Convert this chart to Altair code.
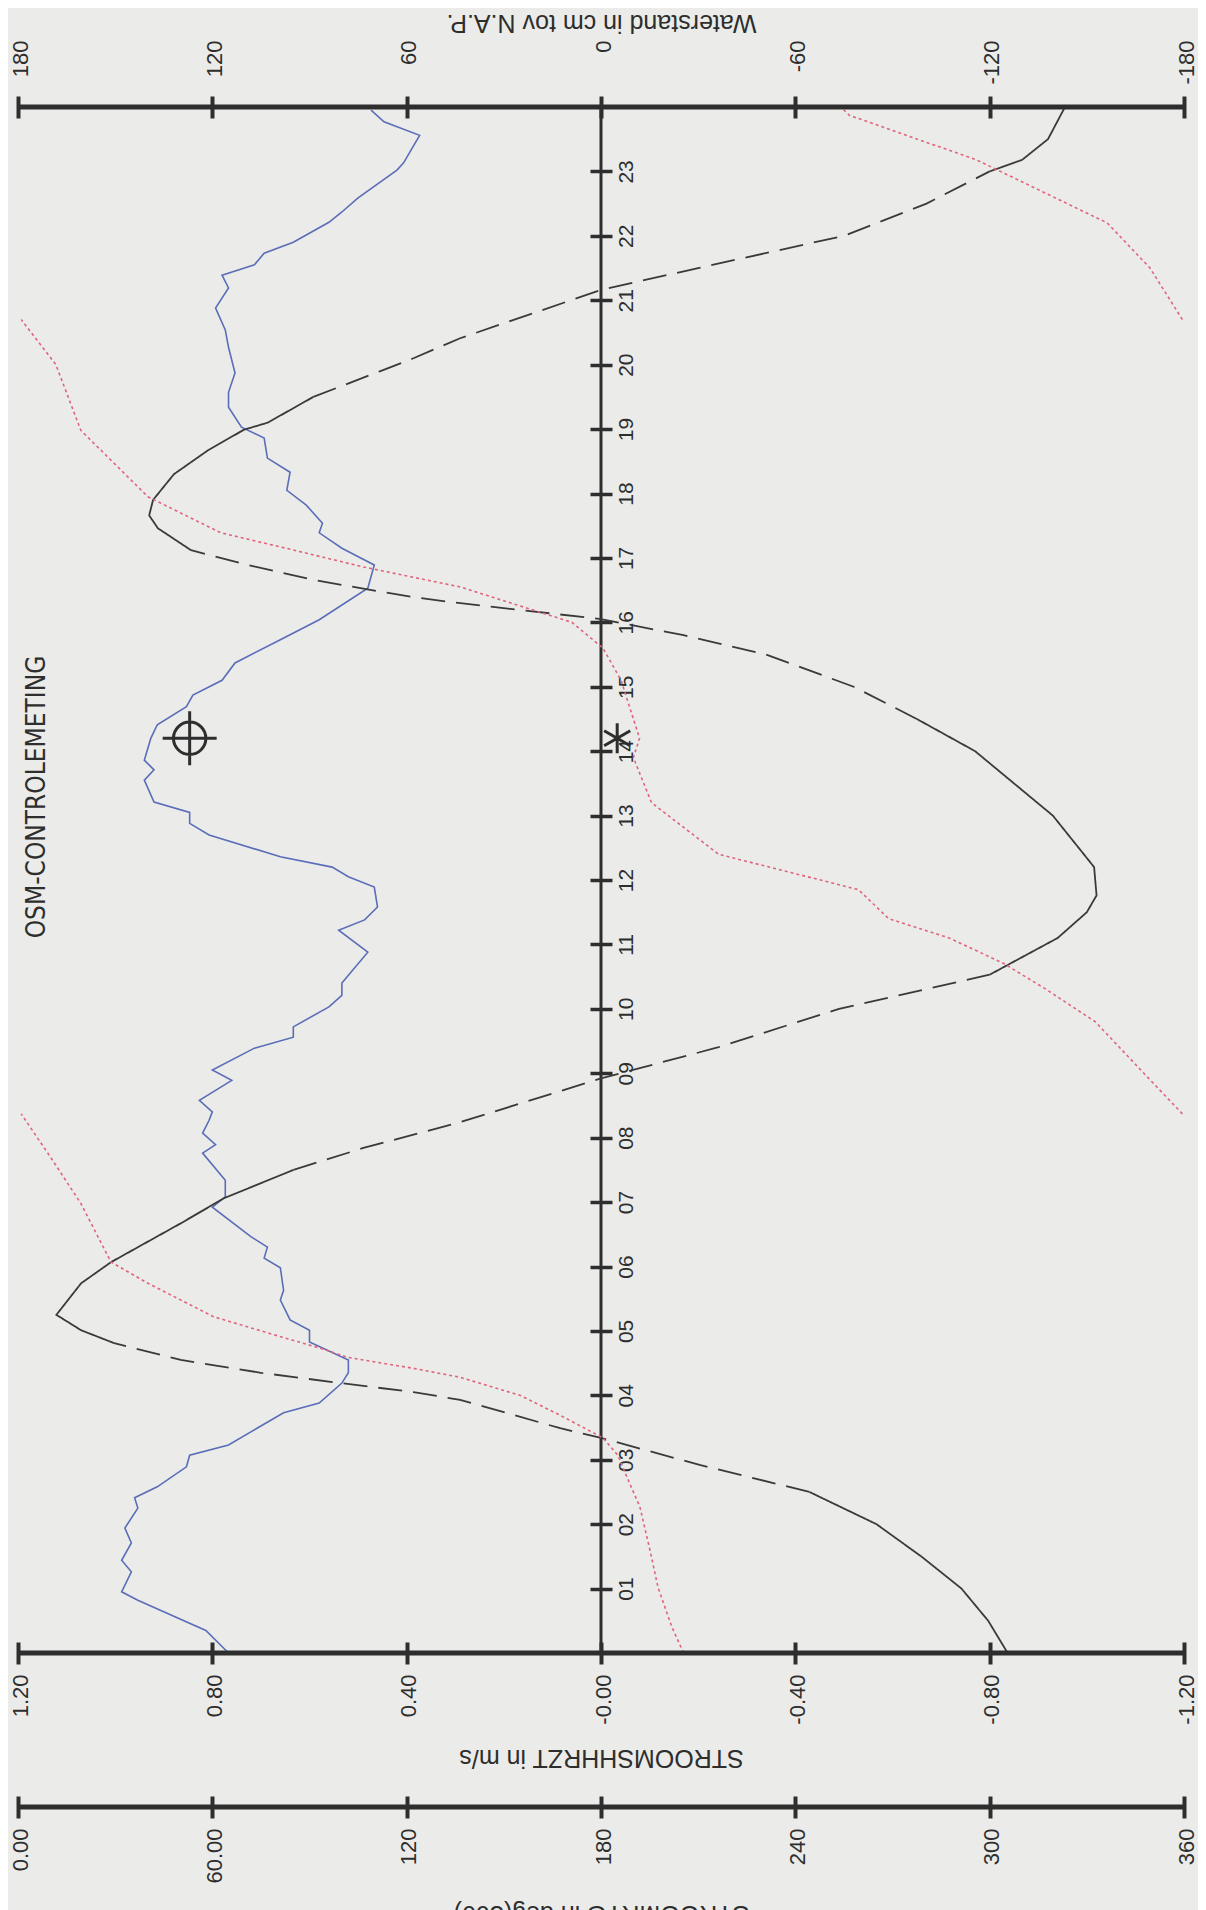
import altair as alt
import pandas as pd

# ---------------- data ----------------
BLUE_HOURS = [0.0, 0.35, 0.82, 0.95, 1.26, 1.44, 1.71, 1.94, 2.25, 2.41,
              2.58, 2.89, 3.07, 3.23, 3.73, 3.88, 4.19, 4.35, 4.55, 4.83,
              5.01, 5.17, 5.48, 5.63, 5.98, 6.13, 6.30, 6.46, 6.92, 7.08,
              7.34, 7.76, 7.89, 8.07, 8.27, 8.40, 8.58, 8.89, 9.05, 9.39,
              9.56, 9.72, 10.03, 10.21, 10.40, 10.88, 11.22, 11.38, 11.58, 11.89,
              12.05, 12.20, 12.36, 12.70, 12.88, 13.05, 13.21, 13.55, 13.71, 13.86,
              14.20, 14.41, 14.69, 14.87, 15.10, 15.37, 15.73, 16.04, 16.53, 16.89,
              17.15, 17.39, 17.54, 17.82, 18.05, 18.33, 18.55, 18.86, 19.03, 19.34,
              19.57, 19.87, 20.27, 20.54, 20.88, 21.19, 21.39, 21.55, 21.73, 21.90,
              22.21, 22.37, 22.59, 23.02, 23.13, 23.56, 23.77, 23.95]
WATERSTAND = [115, 122, 143, 148, 145, 148, 145, 147, 143, 144,
              137, 128, 127, 115, 98, 87, 80, 78, 78, 90,
              90, 96, 99, 98, 99, 104, 103, 108, 120, 116,
              116, 123, 119, 123, 121, 120, 124, 114, 120, 107,
              95, 95, 84, 80, 80, 72, 81, 73, 69, 70,
              78, 83, 99, 121, 127, 127, 138, 141, 138, 141,
              139, 137, 128, 126, 117, 113, 99, 87, 72, 70,
              80, 87, 86, 91, 97, 96, 103, 104, 111, 115,
              115, 113, 115, 116, 119, 115, 117, 107, 104, 95,
              84, 80, 75, 63, 61, 56, 67, 71]

BLACK_HOURS = [0.0, 0.5, 1.0, 1.5, 2.0, 2.5, 2.92, 3.34, 3.49, 3.93,
               4.05, 4.19, 4.35, 4.55, 4.81, 5.01, 5.25, 5.74, 6.07, 6.67,
               7.06, 7.5, 7.84, 8.24, 8.92, 9.4, 10.0, 10.53, 11.1, 11.5,
               11.76, 12.2, 13.0, 14.0, 14.5, 15.0, 15.5, 15.8, 16.05, 16.31,
               16.39, 16.53, 16.66, 16.89, 17.12, 17.46, 17.66, 17.9, 18.3, 18.67,
               18.99, 19.1, 19.5, 19.9, 20.1, 20.41, 21.16, 21.5, 22.0, 22.5,
               23.0, 23.18, 23.5, 24.0]
SPEED = [-0.837, -0.797, -0.742, -0.659, -0.567, -0.429, -0.203, 0.0, 0.084, 0.29,
         0.386, 0.536, 0.70, 0.865, 1.002, 1.07, 1.121, 1.07, 1.008, 0.865,
         0.776, 0.633, 0.489, 0.29, 0.0, -0.24, -0.49, -0.80, -0.94, -1.00,
         -1.02, -1.015, -0.93, -0.77, -0.65, -0.52, -0.34, -0.17, 0.0, 0.304,
         0.386, 0.495, 0.592, 0.727, 0.844, 0.912, 0.930, 0.922, 0.879, 0.809,
         0.735, 0.686, 0.592, 0.454, 0.386, 0.29, 0.0, -0.2, -0.5, -0.67,
         -0.80, -0.867, -0.92, -0.955]
DASHED_FROM = [2.5, 7.5, 14.5, 19.5]
DASHED_TO = [4.81, 10.53, 17.12, 23.0]

RED_HOURS = [0.0, 0.40, 1.02, 1.6, 2.27, 2.73, 3.07, 3.34, 3.69, 4.0,
             4.28, 4.42, 4.59, 4.73, 4.91, 5.22, 5.74, 6.07, 6.98, 7.7,
             8.37, 8.37, 9.0, 9.8, 10.3, 10.7, 11.1, 11.4, 11.85, 12.4,
             13.2, 13.9, 14.2, 15.1, 15.6, 16.0, 16.55, 16.70, 16.86, 17.17,
             17.39, 17.95, 18.98, 20.0, 20.7, 20.7, 21.5, 22.2, 23.18, 23.87, 24.0]
DIRECTION = [205.5, 201.9, 197.6, 195.1, 192.0, 188.0, 185.2, 180.6, 167.4, 155,
             136.5, 122.0, 101.7, 93.4, 81.1, 60.4, 40.1, 28.7, 19.4, 10,
             1.0, 359.5, 347.6, 332.6, 317.5, 304.5, 287.5, 268.8, 259.5, 216.3,
             195.6, 190, 191.9, 186.2, 180.6, 171, 136.5, 122, 106.6, 81.1,
             62.6, 40.1, 19.4, 11.7, 1.0, 359.5, 349.5, 336.3, 295.9, 256.7, 254]

CONTROL_HOUR = [14.2]
CONTROL_WATERSTAND = [127]
CONTROL_DIRECTION = [185]

TITLE = "OSM-CONTROLEMETING"
TOP_TICKS = [180, 120, 60, 0, -60, -120, -180]
TOP_LABELS = ["180", "120", "60", "0", "-60", "-120", "-180"]
MID_TICKS = [1.2, 0.8, 0.4, 0, -0.4, -0.8, -1.2]
MID_LABELS = ["1.20", "0.80", "0.40", "-0.00", "-0.40", "-0.80", "-1.20"]
BOT_TICKS = [0, 60, 120, 180, 240, 300, 360]
BOT_LABELS = ["0.00", "60.00", "120", "180", "240", "300", "360"]
HOUR_TICKS = list(range(1, 24))
HOUR_LABELS = ["%02d" % h for h in HOUR_TICKS]

# ---------------- styling ----------------
W, H = 1166, 1546
AX = "#2e2e2e"
BG = "#ebece9"
BLUE = "#5a6db8"
RED = "#e0647c"
BLACK = "#3a3a3a"
FONT = "Liberation Sans, Arial, sans-serif"
TFONT = "DejaVu Sans Condensed, Liberation Sans Narrow, DejaVu Sans, sans-serif"
CROSSHAIR = "M-1,0L1,0M0,-1L0,1M0.6,0A0.6,0.6,0,1,1,-0.6,0A0.6,0.6,0,1,1,0.6,0"
ASTERISK = "M0,-1L0,1M-0.87,-0.5L0.87,0.5M-0.87,0.5L0.87,-0.5"


def label_expr(vals, labels):
    expr = "''"
    for v, l in reversed(list(zip(vals, labels))):
        expr = f"datum.value == {v} ? '{l}' : {expr}"
    return expr


# ---------------- tables ----------------
df_blue = pd.DataFrame({"h": BLUE_HOURS, "w": WATERSTAND})

rows = []
seg, prev = -1, None
for i in range(len(BLACK_HOURS) - 1):
    h0, h1 = BLACK_HOURS[i], BLACK_HOURS[i + 1]
    dashed = any(a <= h0 and h1 <= b for a, b in zip(DASHED_FROM, DASHED_TO))
    style = "dashed" if dashed else "solid"
    if style != prev:
        seg += 1
        rows.append({"h": h0, "s": SPEED[i], "seg": seg, "style": style})
        prev = style
    rows.append({"h": h1, "s": SPEED[i + 1], "seg": seg, "style": style})
df_black = pd.DataFrame(rows)

rrows = []
rseg = 0
for i, (h, d) in enumerate(zip(RED_HOURS, DIRECTION)):
    if i > 0 and abs(d - DIRECTION[i - 1]) > 180:
        rseg += 1
    rrows.append({"h": h, "d": d, "seg": rseg})
df_red = pd.DataFrame(rrows)

df_cw = pd.DataFrame({"h": CONTROL_HOUR, "w": CONTROL_WATERSTAND})
df_cd = pd.DataFrame({"h": CONTROL_HOUR, "d": CONTROL_DIRECTION})
df_zero = pd.DataFrame({"w": [0]})

# ---------------- encodings ----------------
y_enc = alt.Y(
    "h:Q",
    scale=alt.Scale(domain=[0, 24], nice=False, zero=False),
    axis=alt.Axis(orient="right", offset=-(W / 2 + 11), values=HOUR_TICKS,
                  labelExpr=label_expr(HOUR_TICKS, HOUR_LABELS),
                  tickSize=22, tickWidth=3.5, tickColor=AX, domain=False, grid=False,
                  labelAngle=270, labelAlign="center", labelBaseline="top",
                  labelPadding=3, labelFontSize=21, labelColor=AX, labelFont=FONT,
                  labelFlush=False, labelOverlap=False, title=None),
)

common_axis = dict(tickSize=22, tickWidth=4, tickColor=AX, domain=False, grid=False,
                   labelAngle=270, labelBaseline="middle", labelFontSize=22,
                   labelOffset=2,
                   labelColor=AX, labelFont=FONT, labelFlush=False, labelOverlap=False,
                   titleAngle=180, titleAlign="center", titleBaseline="middle",
                   titleX=W / 2, titleFontSize=25, titleFontWeight="normal",
                   titleColor=AX, titleFont=FONT)

x_w = alt.X("w:Q", scale=alt.Scale(domain=[-180, 180], reverse=True, nice=False, zero=False),
            axis=alt.Axis(orient="top", offset=-11, values=TOP_TICKS,
                          labelExpr=label_expr(TOP_TICKS, TOP_LABELS),
                          labelAlign="right", labelPadding=56,
                          title="Waterstand in cm tov N.A.P.", titleY=-96, **common_axis))
x_s = alt.X("s:Q", scale=alt.Scale(domain=[-1.2, 1.2], reverse=True, nice=False, zero=False),
            axis=alt.Axis(orient="bottom", offset=-11, values=MID_TICKS,
                          labelExpr=label_expr(MID_TICKS, MID_LABELS),
                          labelAlign="right", labelPadding=10,
                          title="STROOMSHHRZT in m/s", titleY=115, **common_axis))
x_d = alt.X("d:Q", scale=alt.Scale(domain=[0, 360], nice=False, zero=False),
            axis=alt.Axis(orient="bottom", offset=143, values=BOT_TICKS,
                          labelExpr=label_expr(BOT_TICKS, BOT_LABELS),
                          labelAlign="right", labelPadding=10,
                          title="STROOMRTG in deg(360)", titleY=117, **common_axis))

# ---------------- layers ----------------
zero_rule = alt.Chart(df_zero).mark_rule(color=AX, strokeWidth=3).encode(x=x_w)
blue = alt.Chart(df_blue).mark_line(color=BLUE, strokeWidth=1.6).encode(
    x=x_w, y=y_enc, order="h:Q")
cross = alt.Chart(df_cw).mark_point(shape=CROSSHAIR, size=2916, filled=False, stroke=AX,
                                    strokeWidth=3, opacity=1).encode(x=x_w, y=y_enc)
water_layer = alt.layer(zero_rule, blue, cross)

black = alt.Chart(df_black).mark_line(color=BLACK, strokeWidth=1.8).encode(
    x=x_s, y=y_enc, detail="seg:N", order="h:Q",
    strokeDash=alt.StrokeDash("style:N", scale=alt.Scale(domain=["solid", "dashed"],
                                                          range=[[1, 0], [24, 11]]),
                              legend=None))

red = alt.Chart(df_red).mark_line(color=RED, strokeWidth=1.6, strokeDash=[3, 3]).encode(
    x=x_d, y=y_enc, detail="seg:N", order="h:Q")
aster = alt.Chart(df_cd).mark_point(shape=ASTERISK, size=900, filled=False, stroke=AX,
                                    strokeWidth=3, opacity=1).encode(x=x_d, y=y_enc)
dir_layer = alt.layer(red, aster)

df_one = pd.DataFrame({"t": [TITLE]})
line_top = alt.Chart(df_one).mark_rule(color=AX, strokeWidth=5).encode(
    x=alt.value(0), x2=alt.value(W), y=alt.value(0))
line_mid = alt.Chart(df_one).mark_rule(color=AX, strokeWidth=5).encode(
    x=alt.value(0), x2=alt.value(W), y=alt.value(H))
line_bot = alt.Chart(df_one).mark_rule(color=AX, strokeWidth=5).encode(
    x=alt.value(0), x2=alt.value(W), y=alt.value(H + 154))
title_txt = alt.Chart(df_one).mark_text(angle=270, font=TFONT, fontSize=26, color=AX,
                                        align="center", baseline="middle").encode(
    x=alt.value(19), y=alt.value(690), text="t:N")

chart = alt.layer(water_layer, black, dir_layer, line_top, line_mid, line_bot, title_txt
                  ).resolve_scale(x="independent").properties(
    width=W, height=H,
    autosize=alt.AutoSizeParams(type="none"),
    padding={"left": 10, "top": 99, "right": 14, "bottom": 257},
    background=BG,
).configure_view(stroke=None)

chart.save("out.html", embed_options={"renderer": "svg", "actions": False})
